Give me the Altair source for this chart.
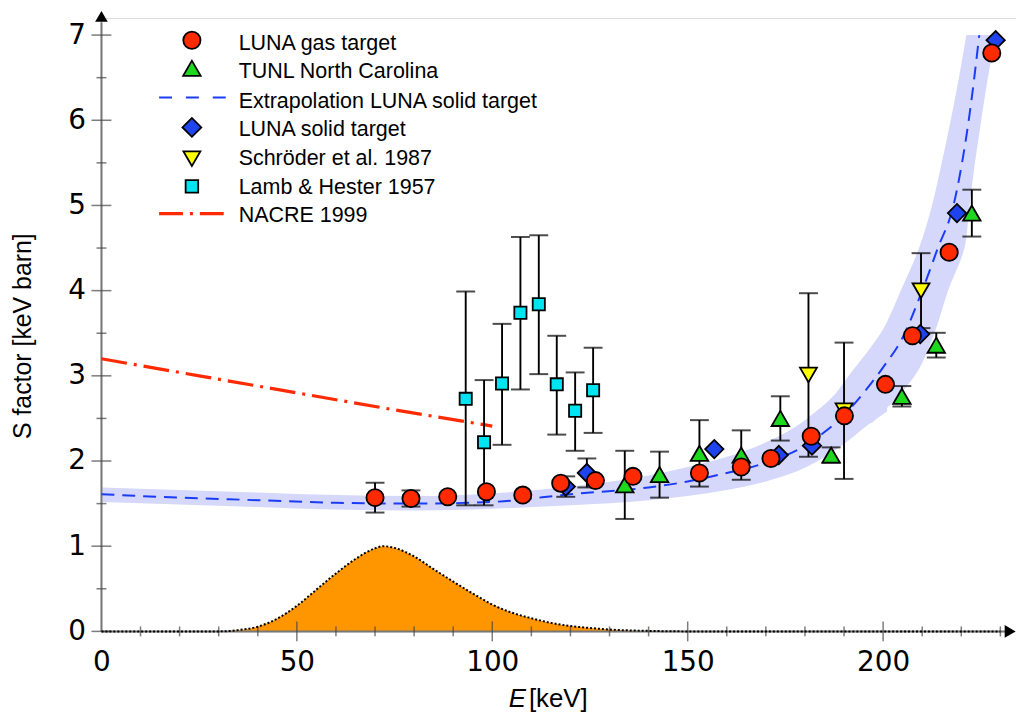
import altair as alt
import pandas as pd

# ---------------- data ----------------
# LUNA gas target
gas_E = [70.0, 79.2, 88.6, 98.5, 107.8, 117.5, 126.4, 136.0, 153.0, 163.7, 171.3, 181.6, 190.1, 200.6, 207.5, 216.9, 227.8]
gas_S = [1.57, 1.56, 1.58, 1.64, 1.60, 1.74, 1.77, 1.82, 1.86, 1.93, 2.03, 2.29, 2.53, 2.90, 3.47, 4.45, 6.79]
gas_err = [0.175, 0.095, 0, 0, 0, 0, 0, 0, 0, 0, 0, 0, 0, 0, 0, 0, 0]

# TUNL North Carolina
tunl_E = [133.9, 142.8, 153.0, 163.7, 173.7, 186.7, 204.8, 213.6, 222.7]
tunl_S = [1.72, 1.84, 2.09, 2.07, 2.50, 2.07, 2.76, 3.36, 4.91]
tunl_err = [0.40, 0.27, 0.39, 0.29, 0.26, 0.09, 0.12, 0.145, 0.275]

# LUNA solid target
solid_E = [118.8, 124.2, 156.8, 173.3, 181.8, 209.5, 218.9, 228.8]
solid_S = [1.70, 1.86, 2.14, 2.07, 2.18, 3.49, 4.91, 6.94]
solid_err = [0.12, 0.17, 0, 0, 0, 0, 0, 0]

# Schroeder et al. 1987
sch_E = [180.9, 190.0, 209.7]
sch_S = [3.01, 2.59, 4.00]
sch_err = [0.96, 0.80, 0.44]

# Lamb & Hester 1957
lamb_E = [93.2, 97.9, 102.5, 107.2, 111.9, 116.5, 121.2, 125.8]
lamb_S = [2.73, 2.22, 2.91, 3.74, 3.84, 2.90, 2.59, 2.83]
lamb_lo = [1.48, 1.48, 2.19, 2.84, 3.02, 2.31, 2.12, 2.33]
lamb_hi = [3.99, 2.95, 3.61, 4.63, 4.65, 3.47, 3.04, 3.33]

# NACRE 1999
nacre_E = [0, 25, 50, 75, 100]
nacre_S = [3.20, 3.00, 2.80, 2.60, 2.41]

# Extrapolation LUNA solid target
ext_E = [0, 20, 40, 60, 80, 100, 120, 140, 150, 160, 170, 180, 185, 190, 195, 200, 205, 210, 214, 218, 220, 222.5, 224.6]
ext_S = [1.61, 1.57, 1.54, 1.51, 1.50, 1.52, 1.61, 1.69, 1.76, 1.86, 1.98, 2.18, 2.34, 2.54, 2.80, 3.10, 3.45, 4.00, 4.50, 5.00, 5.45, 6.20, 7.00]

# uncertainty band: flat part (by energy) ...
bandA_E = [0, 20, 40, 60, 80, 100, 120, 140, 150, 160, 170, 180, 190, 196, 201]
bandA_lo = [1.52, 1.49, 1.46, 1.43, 1.42, 1.44, 1.48, 1.54, 1.59, 1.66, 1.76, 1.92, 2.20, 2.42, 2.58]
bandA_hi = [1.69, 1.66, 1.63, 1.60, 1.59, 1.62, 1.70, 1.83, 1.93, 2.05, 2.22, 2.48, 2.90, 3.28, 3.60]
# ... and steep part (by S factor)
bandB_S = [2.45, 3.0, 3.5, 4.0, 4.5, 5.0, 5.5, 6.0, 6.5, 7.0]
bandB_left = [182.5, 191.2, 199.4, 204.5, 209.2, 212.5, 215.0, 217.3, 219.4, 221.3]
bandB_right = [197.2, 208.1, 213.1, 216.6, 220.8, 222.1, 223.5, 225.1, 226.8, 228.8]

# Gamow window (relative units)
gam_E = [0, 30, 35, 40, 45, 50, 55, 60, 65, 70, 72, 75, 80, 85, 90, 95, 100, 105, 110, 115, 120, 125, 130, 140, 150, 230]
gam_G = [0, 0.0, 0.015, 0.055, 0.15, 0.30, 0.49, 0.68, 0.85, 0.975, 1.0, 0.98, 0.88, 0.73, 0.585, 0.445, 0.315, 0.22, 0.155, 0.10, 0.063, 0.04, 0.022, 0.006, 0.0, 0.0]

# axis ticks
xtick_vals = list(range(10, 231, 10))
xtick_major = [50, 100, 150, 200]
ytick_vals = [i * 0.5 for i in range(0, 15)]
xlabel_vals = [0, 50, 100, 150, 200]
ylabel_vals = [0, 1, 2, 3, 4, 5, 6, 7]

legend_labels = ["LUNA gas target", "TUNL North Carolina", "Extrapolation LUNA solid target",
                 "LUNA solid target", "Schröder et al. 1987", "Lamb & Hester 1957", "NACRE 1999"]

# ---------------- styles ----------------
RED, GREEN, BLUE, YEL, CYAN = "#ff2a00", "#1ed81e", "#1f44ee", "#ffff00", "#00e3f0"
LINEBLUE, NACRED, BANDC, ORANGE = "#1a3cf5", "#ff2a00", "#d5d8fa", "#ff9600"

W, H = 920, 617
xs = alt.Scale(domain=[0, 234], nice=False, zero=False)
ys = alt.Scale(domain=[0, 7.2], nice=False, zero=False)
xaxis = alt.Axis(title=None, values=xlabel_vals, ticks=False, domain=False, grid=False,
                 labelFont="DejaVu Sans", labelFontSize=28, labelPadding=17, labelColor="black",
                 labelFlush=False, labelOverlap=False)
yaxis = alt.Axis(title=None, values=ylabel_vals, ticks=False, domain=False, grid=False,
                 labelFont="DejaVu Sans", labelFontSize=28, labelPadding=16, labelColor="black",
                 labelFlush=False, labelOverlap=False)


def X(f):
    return alt.X(f, type="quantitative", scale=xs, axis=xaxis)


def Y(f):
    return alt.Y(f, type="quantitative", scale=ys, axis=yaxis)


layers = []

# band
dfA = pd.DataFrame({"E": bandA_E, "lo": bandA_lo, "hi": bandA_hi})
layers.append(alt.Chart(dfA).mark_area(color=BANDC, opacity=1, interpolate="monotone")
              .encode(x=X("E"), y=Y("lo"), y2=alt.Y2("hi")))
dfB = pd.DataFrame({"S": bandB_S, "l": bandB_left, "r": bandB_right})
layers.append(alt.Chart(dfB).mark_area(color=BANDC, opacity=1, orient="horizontal", interpolate="monotone")
              .encode(y=Y("S"), x=X("l"), x2=alt.X2("r")))

# Gamow peak
dfG = pd.DataFrame({"E": gam_E, "G": gam_G})
layers.append(alt.Chart(dfG).mark_area(color=ORANGE, opacity=1, interpolate="monotone")
              .encode(x=X("E"), y=Y("G")))

# axis lines
axl = pd.DataFrame({"x0": [0], "x1": [231.5], "y0": [0], "y1": [7.15]})
layers.append(alt.Chart(axl).mark_rule(color="#777777", strokeWidth=2)
              .encode(x=X("x0"), x2=alt.X2("x1"), y=Y("y0")))
layers.append(alt.Chart(axl).mark_rule(color="#777777", strokeWidth=2)
              .encode(x=X("x0"), y=Y("y0"), y2=alt.Y2("y1")))

# ticks
dfxt = pd.DataFrame({"v": xtick_vals, "z": [0] * len(xtick_vals),
                     "len": [20 if v in xtick_major else 10 for v in xtick_vals]})
layers.append(alt.Chart(dfxt).mark_tick(orient="vertical", thickness=1.5, color="#444444")
              .encode(x=X("v"), y=Y("z"), size=alt.Size("len:Q", scale=None)))
dfyt = pd.DataFrame({"v": ytick_vals, "z": [0] * len(ytick_vals),
                     "len": [20 if float(v).is_integer() else 10 for v in ytick_vals]})
layers.append(alt.Chart(dfyt).mark_tick(orient="horizontal", thickness=1.5, color="#444444")
              .encode(y=Y("v"), x=X("z"), size=alt.Size("len:Q", scale=None)))

# gamow dotted outline
layers.append(alt.Chart(dfG).mark_line(color="black", strokeWidth=2, strokeDash=[2, 2], interpolate="monotone")
              .encode(x=X("E"), y=Y("G")))

# arrows
arr = pd.DataFrame({"xa": [0, 232.5], "ya": [7.22, 0], "sh": ["triangle-up", "triangle-right"]})
layers.append(alt.Chart(arr).mark_point(filled=True, color="black", opacity=1, size=160)
              .encode(x=X("xa"), y=Y("ya"), shape=alt.Shape("sh:N", scale=None)))

# NACRE and extrapolation lines
dfN = pd.DataFrame({"E": nacre_E, "S": nacre_S})
layers.append(alt.Chart(dfN).mark_line(color=NACRED, strokeWidth=3.2, strokeDash=[26, 7, 3, 7])
              .encode(x=X("E"), y=Y("S")))
dfX = pd.DataFrame({"E": ext_E, "S": ext_S})
layers.append(alt.Chart(dfX).mark_line(color=LINEBLUE, strokeWidth=2, strokeDash=[13, 8], interpolate="monotone")
              .encode(x=X("E"), y=Y("S")))

# error bars
eE, eLo, eHi = [], [], []
for E, S, er in [(gas_E, gas_S, gas_err), (tunl_E, tunl_S, tunl_err), (solid_E, solid_S, solid_err),
                 (sch_E, sch_S, sch_err)]:
    for e, s, d in zip(E, S, er):
        if d > 0:
            eE.append(e)
            eLo.append(s - d)
            eHi.append(s + d)
for e, lo, hi in zip(lamb_E, lamb_lo, lamb_hi):
    eE.append(e)
    eLo.append(lo)
    eHi.append(hi)
dfE = pd.DataFrame({"E": eE, "lo": eLo, "hi": eHi})
layers.append(alt.Chart(dfE).mark_rule(color="black", strokeWidth=1.9)
              .encode(x=X("E"), y=Y("lo"), y2=alt.Y2("hi")))
layers.append(alt.Chart(dfE).mark_tick(orient="horizontal", size=19, thickness=2, color="black")
              .encode(x=X("E"), y=Y("lo")))
layers.append(alt.Chart(dfE).mark_tick(orient="horizontal", size=19, thickness=2, color="black")
              .encode(x=X("E"), y=Y("hi")))


def pts(E, S, shape, fill, size):
    df = pd.DataFrame({"E": E, "S": S})
    return (alt.Chart(df).mark_point(shape=shape, filled=True, fill=fill, stroke="black",
                                     strokeWidth=1.8, size=size, opacity=1)
            .encode(x=X("E"), y=Y("S")))


layers.append(pts(lamb_E, lamb_S, "square", CYAN, 150))
layers.append(pts(sch_E, sch_S, "triangle-down", YEL, 290))
layers.append(pts(solid_E, solid_S, "diamond", BLUE, 340))
layers.append(pts(tunl_E, tunl_S, "triangle-up", GREEN, 310))
layers.append(pts(gas_E, gas_S, "circle", RED, 300))

# ---------------- legend (manual) ----------------
one = pd.DataFrame({"a": [0]})
sym_rows = [("circle", RED, 300, 22.3), ("triangle-up", GREEN, 310, 50.5), ("diamond", BLUE, 360, 110.0),
            ("triangle-down", YEL, 290, 141.5), ("square", CYAN, 160, 169.3)]
for shp, col, sz, yy in sym_rows:
    layers.append(alt.Chart(one).mark_point(shape=shp, filled=True, fill=col, stroke="black",
                                            strokeWidth=1.8, size=sz, opacity=1)
                  .encode(x=alt.value(91), y=alt.value(yy)))
layers.append(alt.Chart(one).mark_rule(color=LINEBLUE, strokeWidth=2, strokeDash=[13, 14])
              .encode(x=alt.value(58), x2=alt.value(125), y=alt.value(80)))
layers.append(alt.Chart(one).mark_rule(color=NACRED, strokeWidth=3.2, strokeDash=[24, 7, 3, 7])
              .encode(x=alt.value(58), x2=alt.value(125), y=alt.value(196.7)))
text_y = [25.7, 54.7, 84.0, 112.3, 141.7, 170.7, 199.0]
for lab, yy in zip(legend_labels, text_y):
    layers.append(alt.Chart(one).mark_text(text=lab, font="Liberation Sans", fontSize=21.6, align="left",
                                           baseline="middle", color="black")
                  .encode(x=alt.value(138), y=alt.value(yy)))

# axis titles
layers.append(alt.Chart(one).mark_text(text="S factor [keV barn]", font="Liberation Sans", fontSize=25,
                                       angle=270, align="center", baseline="middle", color="black")
              .encode(x=alt.value(-78.5), y=alt.value(320)))
layers.append(alt.Chart(one).mark_text(text="E", font="Liberation Sans", fontStyle="italic", fontSize=26,
                                       align="left", baseline="alphabetic", color="black")
              .encode(x=alt.value(409.7), y=alt.value(693)))
layers.append(alt.Chart(one).mark_text(text="[keV]", font="Liberation Sans", fontSize=26,
                                       align="left", baseline="alphabetic", color="black")
              .encode(x=alt.value(430), y=alt.value(693)))

chart = (alt.layer(*layers)
         .properties(width=W, height=H,
                     padding={"left": 94, "top": 8, "right": 0, "bottom": 82},
                     autosize=alt.AutoSizeParams(type="none"))
         .configure_view(stroke=None)
         .configure(background="white"))

chart.save("out.html", embed_options={"renderer": "svg", "actions": False})
